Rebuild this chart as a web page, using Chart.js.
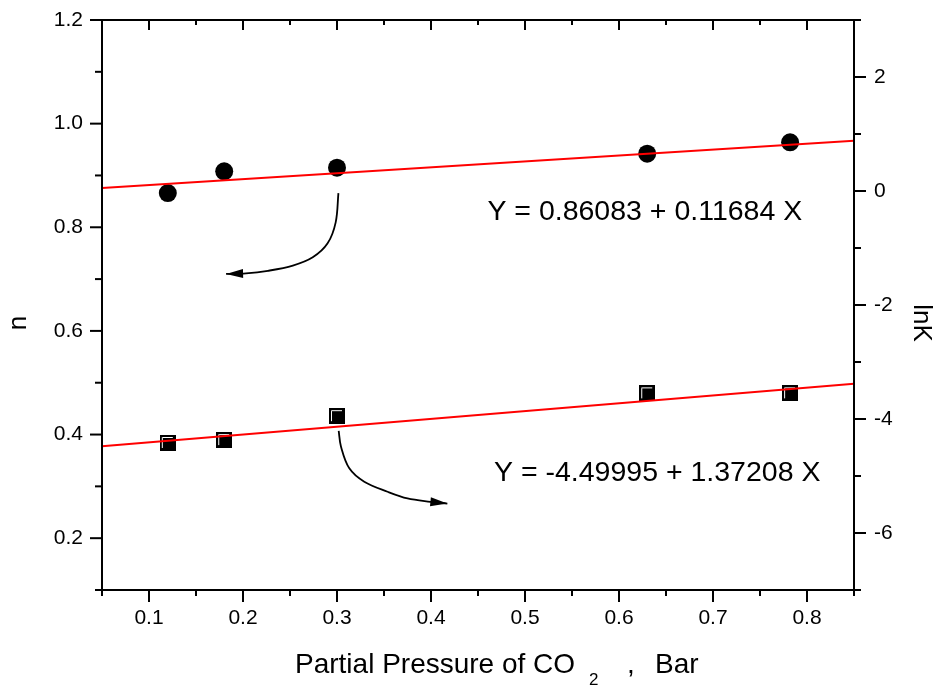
<!DOCTYPE html>
<html><head><meta charset="utf-8">
<script src="https://cdn.jsdelivr.net/npm/chart.js@4/dist/chart.umd.min.js"></script>
<style>html,body{margin:0;padding:0;background:#fff;overflow:hidden}</style>
</head><body>
<canvas id="c" width="941" height="690" style="width:941px;height:690px;display:block"></canvas>
<script>
// ---- data ----
const pressure = [0.12, 0.18, 0.30, 0.63, 0.782];          // Partial Pressure of CO2, Bar
const nValues = [0.866, 0.908, 0.915, 0.942, 0.964];       // n (left axis)
const lnKValues = [-4.42, -4.37, -3.95, -3.55, -3.55];     // lnK (right axis)
const fitX = [0.05, 0.85];                                 // fitted line ends
const nFit = [0.876, 0.967];
const lnKFit = [-4.48, -3.38];
const arrow1X = [0.3015, 0.2986, 0.290, 0.2742, 0.253, 0.2265, 0.2032, 0.182];
const arrow1N = [0.866, 0.8095, 0.769, 0.742, 0.726, 0.716, 0.711, 0.710];
const arrow2X = [0.3018, 0.3042, 0.3131, 0.329, 0.3538, 0.375, 0.3994, 0.4174];
const arrow2LnK = [-4.207, -4.482, -4.865, -5.10, -5.276, -5.394, -5.453, -5.483];
const eq1 = 'Y = 0.86083 + 0.11684 X';
const eq2 = 'Y = -4.49995 + 1.37208 X';
const leftTitle = 'n';
const rightTitle = 'lnK';

const FONT = "'Liberation Sans', Arial, Helvetica, sans-serif";
const zip = (xs, ys) => xs.map((x, i) => ({x, y: ys[i]}));
const isMult = (v, s) => Math.abs(v / s - Math.round(v / s)) < 1e-6;

function squareMarker() {
  const c = document.createElement('canvas');
  c.width = 16; c.height = 16;
  const g = c.getContext('2d');
  g.fillStyle = '#000'; g.fillRect(0, 0, 16, 16);
  g.strokeStyle = '#fff'; g.lineWidth = 1;
  g.beginPath(); g.moveTo(2.5, 13); g.lineTo(2.5, 2.5); g.lineTo(13, 2.5); g.stroke();
  return c;
}

const framePlugin = {
  id: 'frame',
  afterDatasetsDraw(chart) {
    const ctx = chart.ctx;
    chart.data.datasets.forEach((ds, i) => {
      if (!ds.arrow) return;
      const pts = chart.getDatasetMeta(i).data;
      const a = pts[pts.length - 1], b = pts[pts.length - 2];
      const ang = Math.atan2(a.y - b.y, a.x - b.x);
      const L = 17, W = 4.5;
      ctx.save();
      ctx.fillStyle = '#000';
      ctx.beginPath();
      ctx.moveTo(a.x, a.y);
      ctx.lineTo(a.x - L * Math.cos(ang) - W * Math.sin(ang), a.y - L * Math.sin(ang) + W * Math.cos(ang));
      ctx.lineTo(a.x - L * Math.cos(ang) + W * Math.sin(ang), a.y - L * Math.sin(ang) - W * Math.cos(ang));
      ctx.closePath(); ctx.fill();
      ctx.restore();
    });
  },
  afterDraw(chart) {
    const {ctx, chartArea: a, scales: {x, y, y2}} = chart;
    ctx.save();
    ctx.strokeStyle = '#000'; ctx.lineWidth = 2; ctx.lineCap = 'butt';
    const line = (x1, y1, x2, y2_) => { ctx.beginPath(); ctx.moveTo(x1, y1); ctx.lineTo(x2, y2_); ctx.stroke(); };
    ctx.strokeRect(a.left, a.top, a.right - a.left, a.bottom - a.top);
    x.ticks.forEach(t => {
      const px = x.getPixelForValue(t.value);
      const major = isMult(t.value, 0.1);
      line(px, a.bottom, px, a.bottom + (major ? 12 : 6));
      line(px, a.top, px, a.top + (major ? 10 : 5));
    });
    y.ticks.forEach(t => {
      const py = y.getPixelForValue(t.value);
      const major = isMult(t.value, 0.2);
      line(a.left - (major ? 12 : 7), py, a.left, py);
    });
    y2.ticks.forEach(t => {
      const py = y2.getPixelForValue(t.value);
      const major = isMult(t.value, 2);
      line(a.right, py, a.right + (major ? 12 : 7), py);
    });
    // equation labels
    ctx.fillStyle = '#000';
    ctx.font = `28.5px ${FONT}`;
    ctx.textBaseline = 'middle'; ctx.textAlign = 'left';
    ctx.fillText(eq1, x.getPixelForValue(0.46), y.getPixelForValue(0.829));
    ctx.fillText(eq2, x.getPixelForValue(0.467), y2.getPixelForValue(-4.953));
    // x axis title with subscript
    ctx.textBaseline = 'alphabetic';
    const p1 = 'Partial Pressure of CO';
    ctx.font = `28px ${FONT}`;
    const x0 = (a.left + a.right) / 2 - 183;
    ctx.fillText(p1, x0, a.bottom + 83);
    const w1 = ctx.measureText(p1).width;
    ctx.fillText(',', x0 + w1 + 52, a.bottom + 83);
    ctx.fillText('Bar', x0 + w1 + 80, a.bottom + 83);
    ctx.font = `17px ${FONT}`;
    ctx.fillText('2', x0 + w1 + 14, a.bottom + 95);
    // vertical axis titles
    const midY = (a.top + a.bottom) / 2 + 18;
    ctx.font = `26px ${FONT}`;
    ctx.textAlign = 'center';
    ctx.save();
    ctx.translate(a.left - 76, midY);
    ctx.rotate(-Math.PI / 2);
    ctx.fillText(leftTitle, 0, 0);
    ctx.restore();
    ctx.save();
    ctx.translate(a.right + 60, midY);
    ctx.rotate(Math.PI / 2);
    ctx.fillText(rightTitle, 0, 0);
    ctx.restore();
    ctx.restore();
  }
};

const tickFont = {family: FONT, size: 21};
const hiddenGrid = {display: true, drawOnChartArea: false, drawTicks: false, color: 'rgba(0,0,0,0)'};

new Chart(document.getElementById('c'), {
  type: 'scatter',
  data: {
    datasets: [
      {data: zip(fitX, nFit), yAxisID: 'y', showLine: true, borderColor: '#ff0000', borderWidth: 2, pointRadius: 0},
      {data: zip(fitX, lnKFit), yAxisID: 'y2', showLine: true, borderColor: '#ff0000', borderWidth: 2, pointRadius: 0},
      {data: zip(arrow1X, arrow1N), yAxisID: 'y', showLine: true, borderColor: '#000', borderWidth: 1.8, pointRadius: 0, tension: 0.35, arrow: true},
      {data: zip(arrow2X, arrow2LnK), yAxisID: 'y2', showLine: true, borderColor: '#000', borderWidth: 1.8, pointRadius: 0, tension: 0.35, arrow: true},
      {data: zip(pressure, nValues), yAxisID: 'y', pointStyle: 'circle', pointRadius: 9, backgroundColor: '#000', borderColor: '#000', borderWidth: 0},
      {data: zip(pressure, lnKValues), yAxisID: 'y2', pointStyle: squareMarker(), pointRadius: 8}
    ]
  },
  options: {
    responsive: false,
    animation: false,
    devicePixelRatio: 1,
    layout: {padding: {top: 20, left: 0, right: 0, bottom: 0}},
    plugins: {legend: {display: false}, tooltip: {enabled: false}},
    scales: {
      x: {
        type: 'linear', position: 'bottom', min: 0.05, max: 0.85,
        afterFit(s) { s.height = 100; s.paddingLeft = 0; s.paddingRight = 0; },
        grid: hiddenGrid, border: {display: false},
        ticks: {stepSize: 0.05, autoSkip: false, maxRotation: 0, padding: 16, color: '#000', font: tickFont,
          callback: v => isMult(v, 0.1) ? v.toFixed(1) : ''}
      },
      y: {
        type: 'linear', position: 'left', min: 0.1, max: 1.2,
        afterFit(s) { s.width = 102; s.paddingTop = 0; s.paddingBottom = 0; },
        grid: hiddenGrid, border: {display: false},
        ticks: {stepSize: 0.1, autoSkip: false, padding: 19, color: '#000', font: tickFont,
          callback: v => isMult(v, 0.2) ? v.toFixed(1) : ''}
      },
      y2: {
        type: 'linear', position: 'right', min: -7, max: 3,
        afterFit(s) { s.width = 87; s.paddingTop = 0; s.paddingBottom = 0; },
        grid: hiddenGrid, border: {display: false},
        ticks: {stepSize: 1, autoSkip: false, padding: 20, color: '#000', font: tickFont,
          callback: v => isMult(v, 2) ? String(v) : ''}
      }
    }
  },
  plugins: [framePlugin]
});
</script>
</body></html>
